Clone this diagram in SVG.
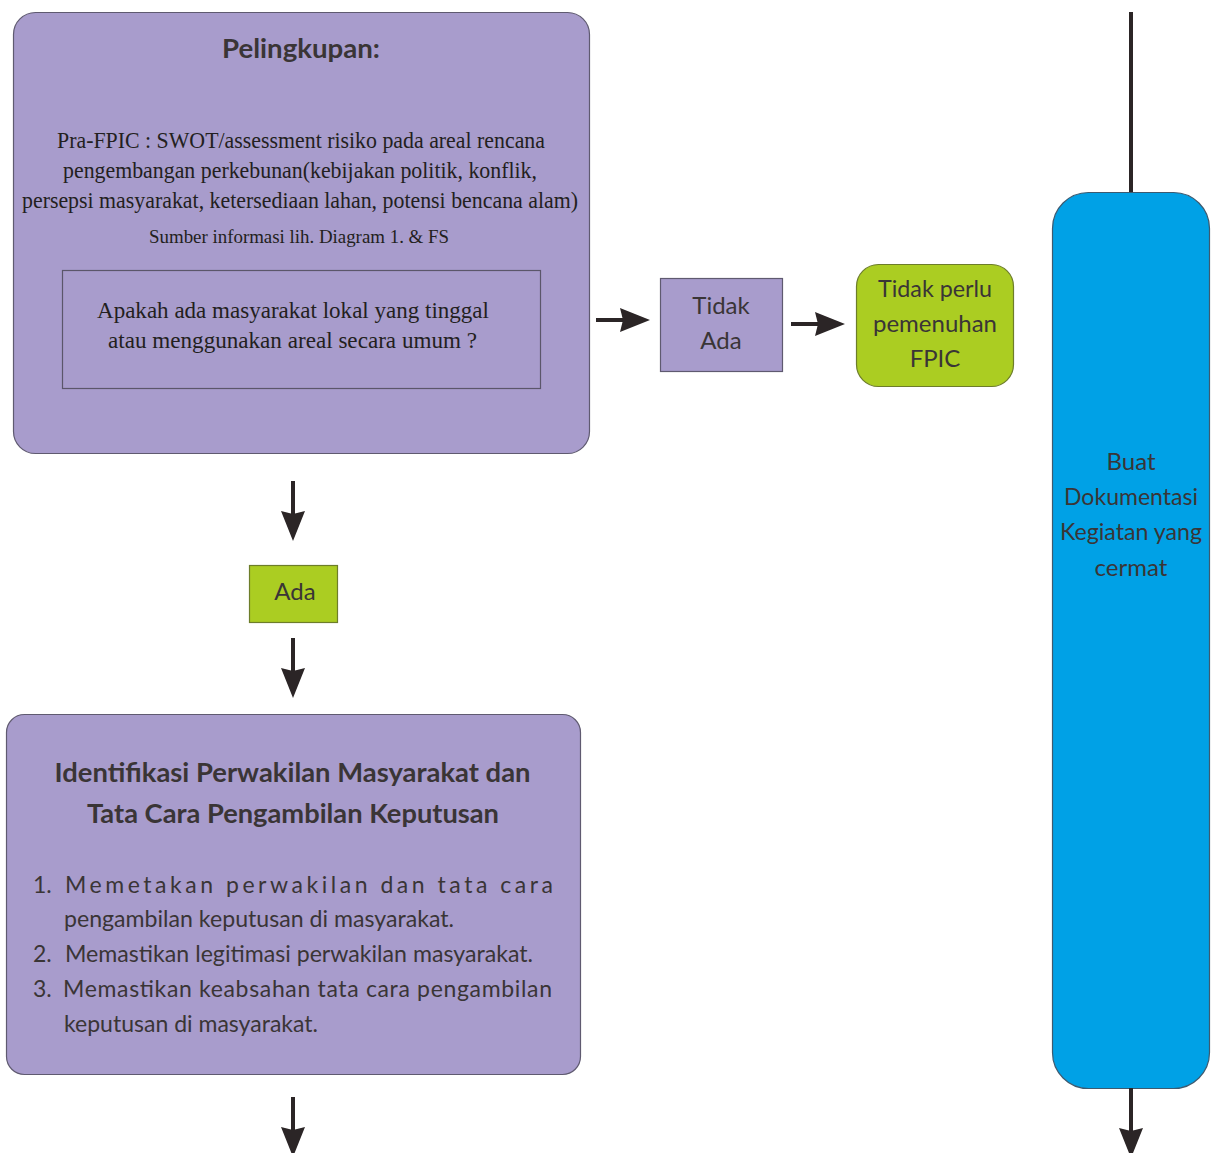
<svg xmlns="http://www.w3.org/2000/svg" width="1214" height="1153" viewBox="0 0 1214 1153">
  <style>
    .purple { fill: #a89ccc; stroke: #5f5a70; stroke-width: 1.2; }
    .green { fill: #abcd22; stroke: #6d7d2a; stroke-width: 1.2; }
    .blue { fill: #00a1e6; stroke: #3d5a70; stroke-width: 1.2; }
    .frame { fill: none; stroke: #5b566a; stroke-width: 1.2; }
    .serif { font-family: "Liberation Serif", "Times New Roman", serif; fill: #231f20; }
    .sans { font-family: Lato, "Open Sans", "Liberation Sans", sans-serif; fill: #3a3536; }
    .bold { font-weight: 700; }
    .mid { text-anchor: middle; }
    .link { fill: none; stroke: #2b2526; stroke-width: 4; marker-end: url(#head); }
    .plain { fill: none; stroke: #2b2526; stroke-width: 4; }
  </style>
  <defs>
    <marker id="head" markerUnits="userSpaceOnUse" viewBox="0 0 30 24" markerWidth="30" markerHeight="24" refX="3" refY="12" orient="auto">
      <path d="M0,0 L30,12 L0,24 L3,12 z" fill="#2b2526"/>
    </marker>
  </defs>

  <rect width="1214" height="1153" fill="#ffffff"/>

  <!-- Scoping step -->
  <g id="pelingkupan">
    <rect class="purple" x="13.5" y="12.5" width="576" height="441" rx="22"/>
    <text class="sans bold mid" x="301" y="58" font-size="26" textLength="158" lengthAdjust="spacingAndGlyphs">Pelingkupan:</text>
    <text class="serif mid" x="301" y="148" font-size="23" textLength="488" lengthAdjust="spacingAndGlyphs">Pra-FPIC : SWOT/assessment risiko pada areal rencana</text>
    <text class="serif mid" x="300" y="178" font-size="23" textLength="474" lengthAdjust="spacingAndGlyphs">pengembangan perkebunan(kebijakan politik, konflik,</text>
    <text class="serif mid" x="300" y="208" font-size="23" textLength="556" lengthAdjust="spacingAndGlyphs">persepsi masyarakat, ketersediaan lahan, potensi bencana alam)</text>
    <text class="serif mid" x="299" y="243" font-size="19" textLength="300" lengthAdjust="spacingAndGlyphs">Sumber informasi lih. Diagram 1. &amp; FS</text>
    <rect class="frame" x="62.5" y="270.5" width="478" height="118"/>
    <text class="serif mid" x="293" y="318" font-size="23" textLength="392" lengthAdjust="spacingAndGlyphs">Apakah ada masyarakat lokal yang tinggal</text>
    <text class="serif mid" x="292.5" y="348" font-size="23" textLength="369" lengthAdjust="spacingAndGlyphs">atau menggunakan areal secara umum ?</text>
  </g>

  <!-- "No" branch -->
  <g id="tidak-ada">
    <rect class="purple" x="660.5" y="278.5" width="122" height="93"/>
    <text class="sans mid" x="721" y="314" font-size="24">Tidak</text>
    <text class="sans mid" x="721" y="349" font-size="24">Ada</text>
  </g>

  <g id="tidak-perlu">
    <rect class="green" x="856.5" y="264.5" width="157" height="122" rx="22"/>
    <text class="sans mid" x="935" y="297" font-size="24" textLength="114" lengthAdjust="spacingAndGlyphs">Tidak perlu</text>
    <text class="sans mid" x="935" y="332" font-size="24" textLength="124" lengthAdjust="spacingAndGlyphs">pemenuhan</text>
    <text class="sans mid" x="935" y="367" font-size="24">FPIC</text>
  </g>

  <!-- "Yes" branch -->
  <g id="ada">
    <rect class="green" x="249.5" y="565.5" width="88" height="57"/>
    <text class="sans mid" x="295" y="600" font-size="24">Ada</text>
  </g>

  <g id="identifikasi">
    <rect class="purple" x="6.5" y="714.5" width="574" height="360" rx="18"/>
    <text class="sans bold mid" x="292.5" y="782" font-size="27" textLength="476" lengthAdjust="spacingAndGlyphs">Identifikasi Perwakilan Masyarakat dan</text>
    <text class="sans bold mid" x="293" y="823" font-size="27" textLength="412" lengthAdjust="spacingAndGlyphs">Tata Cara Pengambilan Keputusan</text>
    <text class="sans" x="33" y="893" font-size="23">1.</text>
    <text class="sans" x="65" y="893" font-size="23" textLength="488" lengthAdjust="spacing">Memetakan perwakilan dan tata cara</text>
    <text class="sans" x="64" y="927" font-size="23" textLength="390" lengthAdjust="spacingAndGlyphs">pengambilan keputusan di masyarakat.</text>
    <text class="sans" x="33" y="962" font-size="23">2.</text>
    <text class="sans" x="65" y="962" font-size="23" textLength="468" lengthAdjust="spacingAndGlyphs">Memastikan legitimasi perwakilan masyarakat.</text>
    <text class="sans" x="33" y="997" font-size="23">3.</text>
    <text class="sans" x="63" y="997" font-size="23" textLength="489" lengthAdjust="spacing">Memastikan keabsahan tata cara pengambilan</text>
    <text class="sans" x="64" y="1032" font-size="23" textLength="254" lengthAdjust="spacingAndGlyphs">keputusan di masyarakat.</text>
  </g>

  <!-- Documentation column -->
  <g id="dokumentasi">
    <rect class="blue" x="1052.5" y="192.5" width="157" height="896" rx="36"/>
    <text class="sans mid" x="1131" y="470" font-size="24">Buat</text>
    <text class="sans mid" x="1131" y="505" font-size="24" textLength="134" lengthAdjust="spacingAndGlyphs">Dokumentasi</text>
    <text class="sans mid" x="1131" y="540" font-size="24" textLength="142" lengthAdjust="spacingAndGlyphs">Kegiatan yang</text>
    <text class="sans mid" x="1131" y="576" font-size="24">cermat</text>
  </g>

  <!-- Connectors -->
  <g id="connectors">
    <path class="link" d="M596,320 H623"/>
    <path class="link" d="M791,324 H818"/>
    <path class="link" d="M293,481 V514"/>
    <path class="link" d="M293,638 V671"/>
    <path class="link" d="M293,1097 V1130"/>
    <path class="plain" d="M1131,12 V192"/>
    <path class="link" d="M1131,1088 V1131"/>
  </g>
</svg>
